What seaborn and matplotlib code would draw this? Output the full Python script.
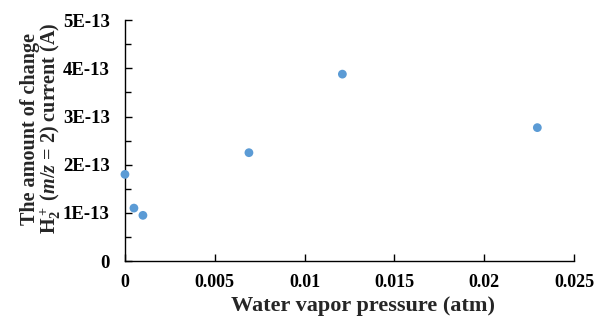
import matplotlib
matplotlib.use("Agg")
import matplotlib.pyplot as plt
import seaborn as sns
import pandas as pd
from matplotlib.ticker import FuncFormatter, MultipleLocator

# --- data ---
pressure_atm = [0.0, 0.0005, 0.001, 0.0069, 0.0121, 0.02295]
current_change = [1.80e-13, 1.10e-13, 0.95e-13, 2.25e-13, 3.88e-13, 2.77e-13]

df = pd.DataFrame({"pressure": pressure_atm, "current": current_change})

sns.set_theme(style="ticks")
plt.rcParams["font.family"] = ["Liberation Serif", "DejaVu Serif"]
plt.rcParams["font.weight"] = "bold"
plt.rcParams["mathtext.fontset"] = "custom"
plt.rcParams["mathtext.rm"] = "Liberation Serif:bold"
plt.rcParams["mathtext.it"] = "Liberation Serif:bold:italic"
plt.rcParams["mathtext.bf"] = "Liberation Serif:bold"

fig = plt.figure(figsize=(5.95, 3.2), dpi=100)
ax = fig.add_axes([0.21, 0.184, 0.755, 0.753])

sns.scatterplot(data=df, x="pressure", y="current", ax=ax, color="#5B9BD5",
                s=40, edgecolor="none", clip_on=False, zorder=3)

ax.set_xlim(0, 0.025)
ax.set_ylim(0, 5e-13)
ax.xaxis.set_major_locator(MultipleLocator(0.005))
ax.yaxis.set_major_locator(MultipleLocator(1e-13))
ax.yaxis.set_minor_locator(MultipleLocator(0.5e-13))
ax.xaxis.set_major_formatter(FuncFormatter(lambda v, p: "0" if abs(v) < 1e-12 else f"{v:g}"))
ax.yaxis.set_major_formatter(FuncFormatter(lambda v, p: "0" if abs(v) < 1e-20 else f"{round(v / 1e-13):d}E-13"))

ax.tick_params(axis="both", which="both", direction="in", colors="black",
               labelsize=13.5, width=1)
ax.tick_params(axis="x", labelsize=13)
ax.tick_params(axis="both", which="major", length=5)
ax.tick_params(axis="y", which="minor", length=4)
ax.tick_params(axis="x", pad=9)
ax.tick_params(axis="y", pad=11)
for lab in ax.get_xticklabels() + ax.get_yticklabels():
    lab.set_fontweight("bold")

sns.despine(ax=ax)
for s in ["left", "bottom"]:
    ax.spines[s].set_color("black")
    ax.spines[s].set_linewidth(1)

ax.set_xlabel("Water vapor pressure (atm)", fontsize=16, fontweight="bold")
ax.xaxis.set_label_coords(0.53, -0.145)
ax.xaxis.label.set_va("top")
ax.set_ylabel("The amount of change\nH$_2^+$ ($m/z$ = 2) current (A)",
              fontsize=14.5, fontweight="bold", linespacing=0.95)
ax.yaxis.set_label_coords(-0.137, 0.55)

fig.savefig("out.png", dpi=100)
